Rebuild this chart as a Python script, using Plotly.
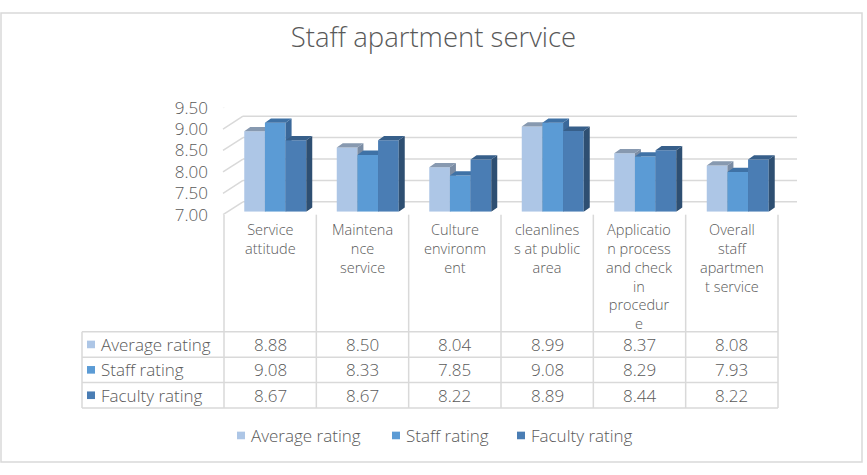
import plotly.graph_objects as go

# ---------------- data ----------------
categories = [
    "Service<br>attitude",
    "Maintena<br>nce<br>service",
    "Culture<br>environm<br>ent",
    "cleanlines<br>s at public<br>area",
    "Applicatio<br>n process<br>and check<br>in<br>procedur<br>e",
    "Overall<br>staff<br>apartmen<br>t service",
]
series_names = ["Average rating", "Staff rating", "Faculty rating"]
average_rating = [8.88, 8.50, 8.04, 8.99, 8.37, 8.08]
staff_rating = [9.08, 8.33, 7.85, 9.08, 8.29, 7.93]
faculty_rating = [8.67, 8.67, 8.22, 8.89, 8.44, 8.22]
y_ticks = [7.0, 7.5, 8.0, 8.5, 9.0, 9.5]
y_tick_labels = ["7.00", "7.50", "8.00", "8.50", "9.00", "9.50"]
title_text = "Staff apartment service"

series_values = [average_rating, staff_rating, faculty_rating]
front_colors = ["#adc6e6", "#5b9bd5", "#4a7db4"]
top_colors = ["#8799b0", "#3f72a6", "#375f8a"]
side_colors = ["#7a8ca4", "#3a689a", "#2e4f72"]

# ---------------- geometry helpers ----------------
W, H = 867, 475
def px(x):
    return x / W
def py(y):
    return 1 - y / H

Y_MIN, Y_MAX = 7.0, 9.5
FONT = "Open Sans"
WEIGHT = 300
TXT = "#595959"
GRID = "#d9d9d9"

def f(size):
    return dict(family=FONT, size=size, color=TXT, weight=WEIGHT)

n = len(categories)
group = 0.67
w = group / 3
dx = 0.065   # bar depth (x units of bar axis)
dy = 0.10    # bar depth (y units)

fig = go.Figure()

# bars: one subplot per series so drawing order is left -> right
for k, (name, vals) in enumerate(zip(series_names, series_values)):
    ax = k + 2
    xa, ya = f"x{ax}", f"y{ax}"
    off = -1.5 * w + k * w
    idx = list(range(n))
    fig.add_trace(go.Bar(
        x=idx, y=[v - Y_MIN for v in vals], base=Y_MIN, width=w, offset=off,
        marker=dict(color=front_colors[k], line=dict(width=0)),
        name=name, showlegend=False, xaxis=xa, yaxis=ya, hoverinfo="skip"))
    tx, ty, sx, sy = [], [], [], []
    for i, v in enumerate(vals):
        xl = i + off
        xr = xl + w
        tx += [xl, xr, xr + dx, xl + dx, xl, None]
        ty += [v, v, v + dy, v + dy, v, None]
        sx += [xr, xr, xr + dx, xr + dx, xr, None]
        sy += [Y_MIN, v, v + dy, Y_MIN + dy, Y_MIN, None]
    fig.add_trace(go.Scatter(x=sx, y=sy, mode="lines", fill="toself",
                             fillcolor=side_colors[k], line=dict(width=0),
                             showlegend=False, xaxis=xa, yaxis=ya, hoverinfo="skip"))
    fig.add_trace(go.Scatter(x=tx, y=ty, mode="lines", fill="toself",
                             fillcolor=top_colors[k], line=dict(width=0),
                             showlegend=False, xaxis=xa, yaxis=ya, hoverinfo="skip"))

layout = dict(
    width=W, height=H, autosize=False,
    margin=dict(l=0, r=0, t=0, b=0),
    paper_bgcolor="white", plot_bgcolor="rgba(0,0,0,0)",
    showlegend=False,
    font=f(17),
    title=dict(text=title_text, x=0.5, xanchor="center", y=py(37), yanchor="middle",
               font=f(27.5)),
    xaxis=dict(domain=[px(223), px(784)], range=[0, 1], visible=False, anchor="y"),
    yaxis=dict(domain=[py(213), py(100.5)], range=[Y_MIN, Y_MAX], anchor="x",
               tickvals=y_ticks, ticktext=y_tick_labels, showgrid=False,
               zeroline=False, showline=False, ticks="", ticklabelstandoff=14,
               tickfont=f(17)),
)
for k in range(3):
    ax = k + 2
    layout[f"xaxis{ax}"] = dict(domain=[px(229), px(784)], range=[-0.5, n - 0.5],
                               visible=False, anchor=f"y{ax}")
    layout[f"yaxis{ax}"] = dict(domain=[py(210), py(97.5)], range=[Y_MIN, Y_MAX],
                               visible=False, anchor=f"x{ax}")
fig.update_layout(**layout)

shapes = []
# chart border
shapes.append(dict(type="rect", xref="paper", yref="paper", x0=px(1), x1=px(862),
                   y0=py(473), y1=py(1), line=dict(color=GRID, width=1.5), layer="below"))
# back wall gridlines + side wall diagonals (in axis-y units)
wall_dy = 13.5 / 45.0
for v in y_ticks:
    shapes.append(dict(type="line", xref="paper", yref="y", x0=px(243), x1=px(797),
                       y0=v + wall_dy, y1=v + wall_dy, line=dict(color=GRID, width=1.5),
                       layer="below"))
    shapes.append(dict(type="line", xref="paper", yref="y", x0=px(223), x1=px(243),
                       y0=v, y1=v + wall_dy, line=dict(color=GRID, width=1.5),
                       layer="below"))

# data table
col0 = 224.0
col_w = (778.0 - 224.0) / n
t_left = 82
row_top = 336.0
row_h = 26.7
for j in range(n + 1):
    xj = col0 + j * col_w
    shapes.append(dict(type="line", xref="paper", yref="paper", x0=px(xj), x1=px(xj),
                       y0=py(213), y1=py(row_top + 3 * row_h), line=dict(color=GRID, width=1.5)))
shapes.append(dict(type="line", xref="paper", yref="paper", x0=px(t_left), x1=px(t_left),
                   y0=py(row_top), y1=py(row_top + 3 * row_h), line=dict(color=GRID, width=1.5)))
for r in range(4):
    yr = row_top + r * row_h
    shapes.append(dict(type="line", xref="paper", yref="paper", x0=px(t_left), x1=px(778),
                       y0=py(yr), y1=py(yr), line=dict(color=GRID, width=1.5)))

annotations = []
# category labels
for j, c in enumerate(categories):
    annotations.append(dict(text=c, xref="paper", yref="paper",
                            x=px(col0 + (j + 0.5) * col_w), y=py(217),
                            xanchor="center", yanchor="top", align="center",
                            showarrow=False, font=f(14.5)))
# table rows
for r, (name, vals) in enumerate(zip(series_names, series_values)):
    yc = row_top + (r + 0.5) * row_h
    shapes.append(dict(type="rect", xref="paper", yref="paper", x0=px(87), x1=px(95),
                       y0=py(yc + 4), y1=py(yc - 4), fillcolor=front_colors[r],
                       line=dict(width=0)))
    annotations.append(dict(text=name, xref="paper", yref="paper", x=px(99), y=py(yc),
                            xanchor="left", yanchor="middle", showarrow=False,
                            font=f(17)))
    for j, v in enumerate(vals):
        annotations.append(dict(text=f"{v:.2f}", xref="paper", yref="paper",
                                x=px(col0 + (j + 0.5) * col_w), y=py(yc),
                                xanchor="center", yanchor="middle", showarrow=False,
                                font=f(17)))
# bottom legend
legend_x = [237, 392, 517]
for k, name in enumerate(series_names):
    x0 = legend_x[k]
    shapes.append(dict(type="rect", xref="paper", yref="paper", x0=px(x0), x1=px(x0 + 8),
                       y0=py(449), y1=py(441), fillcolor=front_colors[k], line=dict(width=0)))
    annotations.append(dict(text=name, xref="paper", yref="paper", x=px(x0 + 12), y=py(445),
                            xanchor="left", yanchor="middle", showarrow=False,
                            font=f(17)))

fig.update_layout(shapes=shapes, annotations=annotations)
fig.write_html(
    "out.html",
    config={"displayModeBar": False},
    post_script=(
        "for (const el of [document.documentElement, document.body]) {"
        "el.style.margin='0'; el.style.padding='0'; el.style.overflow='hidden';"
        "el.style.height='475px'; el.style.width='867px'; }"
    ),
)
